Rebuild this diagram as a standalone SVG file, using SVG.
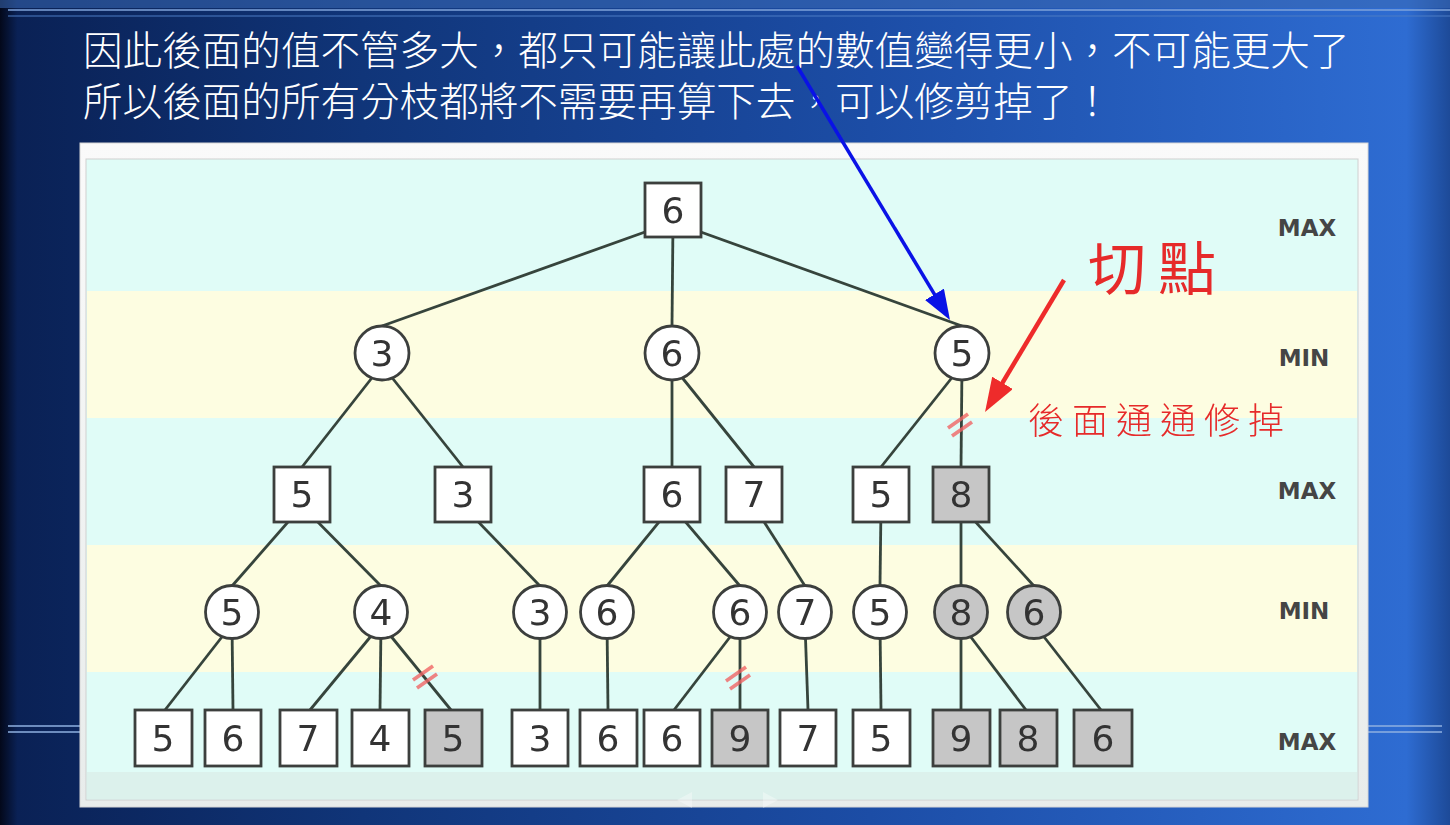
<svg xmlns="http://www.w3.org/2000/svg" width="1450" height="825" viewBox="0 0 1450 825">
  <defs>
    <linearGradient id="slideBg" x1="0" y1="0" x2="1" y2="0">
      <stop offset="0" stop-color="#03081a"/>
      <stop offset="0.012" stop-color="#0a2155"/>
      <stop offset="0.25" stop-color="#103579"/>
      <stop offset="0.6" stop-color="#1c4da6"/>
      <stop offset="0.97" stop-color="#2e6cd2"/>
      <stop offset="1" stop-color="#1d4a98"/>
    </linearGradient>
    <linearGradient id="panelBg" x1="0" y1="0" x2="0" y2="1">
      <stop offset="0" stop-color="#fafafa"/>
      <stop offset="1" stop-color="#e8eceb"/>
    </linearGradient>
    <marker id="blueHead" markerUnits="userSpaceOnUse" markerWidth="32" markerHeight="24" refX="19" refY="11" orient="auto">
      <path d="M0,0 L30,11 L0,22 z" fill="#0a12e6"/>
    </marker>
    <marker id="redHead" markerUnits="userSpaceOnUse" markerWidth="36" markerHeight="26" refX="22" refY="12" orient="auto">
      <path d="M0,0 L34,12 L0,24 z" fill="#ee2b2b"/>
    </marker>
    <g id="cut">
      <line x1="-12" y1="3" x2="8" y2="-11"/>
      <line x1="-8" y1="11" x2="12" y2="-3"/>
    </g>
  </defs>
  <style>
    .edge { stroke: #36443c; stroke-width: 2.8; fill: none; }
    .sq { fill: #ffffff; stroke: #3c3f3d; stroke-width: 2.8; }
    .ci { fill: #ffffff; stroke: #3c3f3d; stroke-width: 2.8; }
    .pruned { fill: #c6c6c6; }
    .num { font-family: "DejaVu Sans", sans-serif; font-size: 36px; fill: #333333; text-anchor: middle; }
    .lvl { font-family: "DejaVu Sans", sans-serif; font-size: 23px; font-weight: bold; fill: #454545; text-anchor: middle; }
    .cutmark { stroke: #f06464; stroke-width: 3.6; opacity: 0.8; }
    .head { font-family: "Noto Sans CJK TC", "Noto Sans CJK SC", sans-serif; font-size: 39.6px; font-weight: 300; fill: #ffffff; }
    .note { font-family: "Noto Sans CJK TC", "Noto Sans CJK SC", sans-serif; fill: #e62a2a; }
  </style>

  <!-- slide background -->
  <rect x="0" y="0" width="1450" height="825" fill="url(#slideBg)"/>
  <rect x="0" y="0" width="1450" height="8" fill="#3a6ab4" opacity="0.55"/>
  <line x1="8" y1="10" x2="1450" y2="10" stroke="#7fa3da" stroke-width="1.5"/>
  <line x1="8" y1="16" x2="1450" y2="16" stroke="#4d7cc4" stroke-width="1"/>
  <g stroke="#8fb0e0" stroke-width="1.5">
    <line x1="8" y1="726" x2="80" y2="726"/>
    <line x1="8" y1="732" x2="80" y2="732"/>
    <line x1="1368" y1="726" x2="1442" y2="726"/>
    <line x1="1368" y1="732" x2="1442" y2="732"/>
  </g>

  <!-- heading, two wrapped lines -->
  <text class="head"><tspan x="83" y="65">因此後面的值不管多大，都只可能讓此處的數值變得更小，不可能更大了</tspan><tspan x="83" y="116">所以後面的所有分枝都將不需要再算下去，可以修剪掉了！</tspan></text>

  <!-- picture panel with level bands -->
  <rect x="80" y="143" width="1288" height="664" fill="url(#panelBg)" stroke="#d6d6d6" stroke-width="1"/>
  <rect x="86" y="159" width="1272" height="641" fill="#e0fcf7" stroke="#d0d0d0" stroke-width="1"/>
  <rect x="87" y="291" width="1270" height="127" fill="#fdfde1"/>
  <rect x="87" y="545" width="1270" height="127" fill="#fdfde1"/>
  <rect x="87" y="772" width="1270" height="27" fill="#dcf1ec"/>
  <g fill="#ffffff" opacity="0.35">
    <path d="M677,800 L692,792 L692,808 z"/>
    <path d="M778,800 L763,792 L763,808 z"/>
  </g>

  <!-- level labels -->
  <g id="levels">
    <text class="lvl" x="1307" y="236">MAX</text>
    <text class="lvl" x="1304" y="366">MIN</text>
    <text class="lvl" x="1307" y="499">MAX</text>
    <text class="lvl" x="1304" y="619">MIN</text>
    <text class="lvl" x="1307" y="750">MAX</text>
  </g>

  <!-- connectors -->
  <g id="connectors" class="edge">
    <line x1="673" y1="222" x2="382" y2="326"/>
    <line x1="673" y1="222" x2="672" y2="326"/>
    <line x1="673" y1="222" x2="962" y2="326"/>
    <line x1="382" y1="365" x2="302" y2="467"/>
    <line x1="382" y1="365" x2="463" y2="467"/>
    <line x1="672" y1="365" x2="672" y2="467"/>
    <line x1="672" y1="365" x2="754" y2="467"/>
    <line x1="962" y1="365" x2="881" y2="467"/>
    <line x1="962" y1="365" x2="961" y2="467"/>
    <line x1="302" y1="506" x2="232" y2="586"/>
    <line x1="302" y1="506" x2="381" y2="586"/>
    <line x1="463" y1="506" x2="540" y2="586"/>
    <line x1="672" y1="506" x2="607" y2="586"/>
    <line x1="672" y1="506" x2="740" y2="586"/>
    <line x1="754" y1="506" x2="805" y2="586"/>
    <line x1="881" y1="506" x2="880" y2="586"/>
    <line x1="961" y1="506" x2="961" y2="586"/>
    <line x1="961" y1="506" x2="1034" y2="586"/>
    <line x1="232" y1="624" x2="165" y2="710"/>
    <line x1="232" y1="624" x2="233" y2="710"/>
    <line x1="381" y1="624" x2="310" y2="710"/>
    <line x1="381" y1="624" x2="380" y2="710"/>
    <line x1="381" y1="624" x2="451" y2="710"/>
    <line x1="540" y1="624" x2="540" y2="710"/>
    <line x1="607" y1="624" x2="608" y2="710"/>
    <line x1="740" y1="624" x2="674" y2="710"/>
    <line x1="740" y1="624" x2="740" y2="710"/>
    <line x1="805" y1="624" x2="808" y2="710"/>
    <line x1="880" y1="624" x2="881" y2="710"/>
    <line x1="961" y1="624" x2="961" y2="710"/>
    <line x1="961" y1="624" x2="1026" y2="710"/>
    <line x1="1034" y1="624" x2="1101" y2="710"/>
  </g>

  <!-- pruned-branch marks -->
  <g id="cuts" class="cutmark">
    <use href="#cut" x="960" y="425"/>
    <use href="#cut" x="425" y="677"/>
    <use href="#cut" x="738" y="678"/>
  </g>

  <!-- root -->
  <g id="n-root"><rect class="sq" x="645" y="183" width="56" height="54"/><text class="num" x="673" y="223">6</text></g>

  <!-- MIN level 1 -->
  <g id="n-a"><circle class="ci" cx="382" cy="353" r="27"/><text class="num" x="382" y="366">3</text></g>
  <g id="n-b"><circle class="ci" cx="672" cy="353" r="27"/><text class="num" x="672" y="366">6</text></g>
  <g id="n-c"><circle class="ci" cx="962" cy="353" r="27"/><text class="num" x="962" y="366">5</text></g>

  <!-- MAX level 2 -->
  <g id="n-aa"><rect class="sq" x="274" y="467" width="56" height="55"/><text class="num" x="302" y="507">5</text></g>
  <g id="n-ab"><rect class="sq" x="435" y="467" width="56" height="55"/><text class="num" x="463" y="507">3</text></g>
  <g id="n-ba"><rect class="sq" x="644" y="467" width="56" height="55"/><text class="num" x="672" y="507">6</text></g>
  <g id="n-bb"><rect class="sq" x="726" y="467" width="56" height="55"/><text class="num" x="754" y="507">7</text></g>
  <g id="n-ca"><rect class="sq" x="853" y="467" width="56" height="55"/><text class="num" x="881" y="507">5</text></g>
  <g id="n-cb"><rect class="sq pruned" x="933" y="467" width="56" height="55"/><text class="num" x="961" y="507">8</text></g>

  <!-- MIN level 3 -->
  <g id="n-aaa"><circle class="ci" cx="232" cy="612" r="26.5"/><text class="num" x="232" y="625">5</text></g>
  <g id="n-aab"><circle class="ci" cx="381" cy="612" r="26.5"/><text class="num" x="381" y="625">4</text></g>
  <g id="n-aba"><circle class="ci" cx="540" cy="612" r="26.5"/><text class="num" x="540" y="625">3</text></g>
  <g id="n-baa"><circle class="ci" cx="607" cy="612" r="26.5"/><text class="num" x="607" y="625">6</text></g>
  <g id="n-bab"><circle class="ci" cx="740" cy="612" r="26.5"/><text class="num" x="740" y="625">6</text></g>
  <g id="n-bba"><circle class="ci" cx="805" cy="612" r="26.5"/><text class="num" x="805" y="625">7</text></g>
  <g id="n-caa"><circle class="ci" cx="880" cy="612" r="26.5"/><text class="num" x="880" y="625">5</text></g>
  <g id="n-cba"><circle class="ci pruned" cx="961" cy="612" r="26.5"/><text class="num" x="961" y="625">8</text></g>
  <g id="n-cbb"><circle class="ci pruned" cx="1034" cy="612" r="26.5"/><text class="num" x="1034" y="625">6</text></g>

  <!-- MAX level 4 (leaves) -->
  <g id="l1"><rect class="sq" x="135" y="710" width="57" height="56"/><text class="num" x="163" y="751">5</text></g>
  <g id="l2"><rect class="sq" x="205" y="710" width="56" height="56"/><text class="num" x="233" y="751">6</text></g>
  <g id="l3"><rect class="sq" x="280" y="710" width="57" height="56"/><text class="num" x="308" y="751">7</text></g>
  <g id="l4"><rect class="sq" x="352" y="710" width="57" height="56"/><text class="num" x="380" y="751">4</text></g>
  <g id="l5"><rect class="sq pruned" x="425" y="710" width="57" height="56"/><text class="num" x="453" y="751">5</text></g>
  <g id="l6"><rect class="sq" x="512" y="710" width="56" height="56"/><text class="num" x="540" y="751">3</text></g>
  <g id="l7"><rect class="sq" x="580" y="710" width="57" height="56"/><text class="num" x="608" y="751">6</text></g>
  <g id="l8"><rect class="sq" x="644" y="710" width="56" height="56"/><text class="num" x="672" y="751">6</text></g>
  <g id="l9"><rect class="sq pruned" x="712" y="710" width="56" height="56"/><text class="num" x="740" y="751">9</text></g>
  <g id="l10"><rect class="sq" x="780" y="710" width="56" height="56"/><text class="num" x="808" y="751">7</text></g>
  <g id="l11"><rect class="sq" x="853" y="710" width="57" height="56"/><text class="num" x="881" y="751">5</text></g>
  <g id="l12"><rect class="sq pruned" x="933" y="710" width="57" height="56"/><text class="num" x="961" y="751">9</text></g>
  <g id="l13"><rect class="sq pruned" x="1000" y="710" width="57" height="56"/><text class="num" x="1028" y="751">8</text></g>
  <g id="l14"><rect class="sq pruned" x="1074" y="710" width="58" height="56"/><text class="num" x="1103" y="751">6</text></g>

  <!-- annotations -->
  <g id="callout-blue">
    <line x1="797" y1="66" x2="944.3" y2="310.6" stroke="#0a12e6" stroke-width="3.5" marker-end="url(#blueHead)"/>
  </g>
  <g id="callout-red">
    <line x1="1064" y1="280" x2="991.2" y2="401.7" stroke="#ee2b2b" stroke-width="4.5" marker-end="url(#redHead)"/>
    <text class="note" x="1088" y="290" font-size="58" letter-spacing="12">切點</text>
    <text class="note" x="1028" y="434" font-size="36" font-weight="300" letter-spacing="8">後面通通修掉</text>
  </g>
</svg>
